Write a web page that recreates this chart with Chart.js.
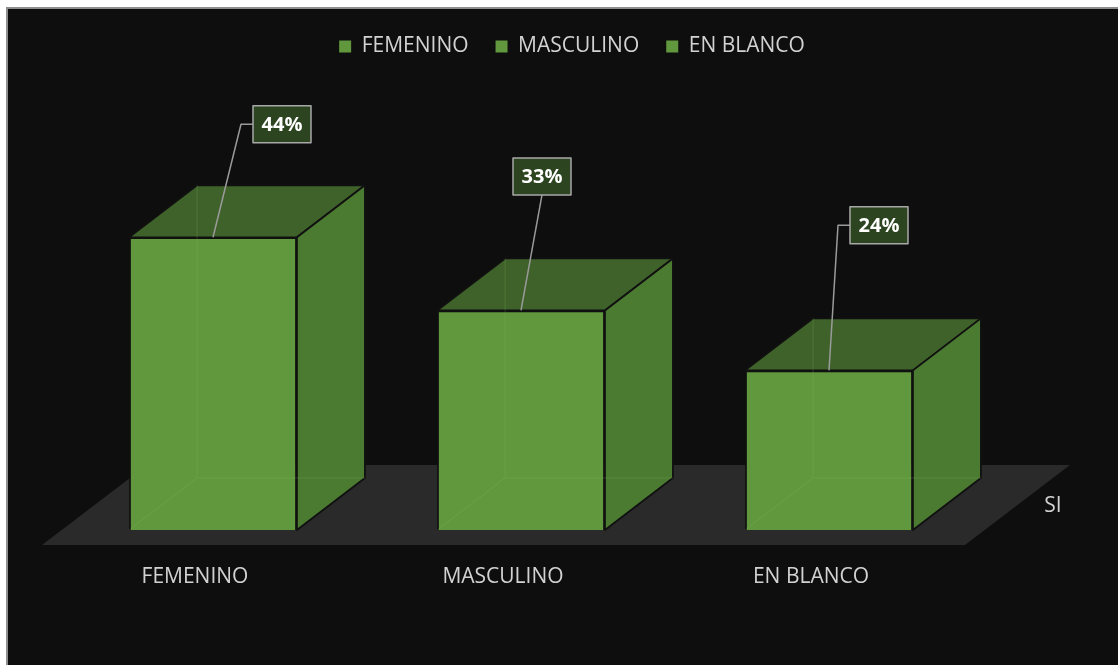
<!DOCTYPE html>
<html>
<head>
<meta charset="utf-8">
<script src="https://cdn.jsdelivr.net/npm/chart.js@4.4.0/dist/chart.umd.min.js"></script>
<style>
  body { margin: 0; background: #fff; overflow: hidden; }
  #frame { position: absolute; left: 6px; top: 7px; width: 1130px; height: 680px; background: #0e0e0e; border-left: 2px solid #8e8e8e; border-top: 2px solid #8e8e8e; }
  #chart { position: absolute; left: 0; top: 0; }
</style>
</head>
<body>
<div id="frame"></div>
<canvas id="chart" width="1118" height="665"></canvas>
<script>
// data
const categories = ['FEMENINO', 'MASCULINO', 'EN BLANCO'];
const seriesNames = ['FEMENINO', 'MASCULINO', 'EN BLANCO'];
const seriesValues = [44, 33, 24];
const depthLabels = ['SI'];

const FRONT = '#61973d';
const TOP = '#3e6229';
const SIDE = '#4b7a31';
const EDGE = '#111';
const TEXT = '#d2d2d2';
const DX = 68, DY = 52;   // depth of the boxes
// where each callout box sits, relative to the top of its bar
const calloutOffsets = [[69, -113], [21, -134], [50, -145]];

function bars(chart) {
    const out = [];
    chart.data.datasets.forEach((ds, i) => {
        if (!chart.isDatasetVisible(i)) return;
        chart.getDatasetMeta(i).data.forEach((el, j) => {
            if (ds.data[j] == null) return;
            const p = el.getProps(['x', 'y', 'base', 'width'], true);
            out.push({ ...p, value: ds.data[j], i });
        });
    });
    return out;
}

const threeD = {
    id: 'threeD',
    beforeDatasetsDraw(chart) {
        const { ctx, chartArea: a } = chart;
        ctx.save();
        // floor
        ctx.fillStyle = '#2b2a2b';
        ctx.beginPath();
        ctx.moveTo(a.left - 17, a.bottom + 15);
        ctx.lineTo(a.right - 18, a.bottom + 15);
        ctx.lineTo(a.right + 87, a.bottom - 65);
        ctx.lineTo(a.left + 88, a.bottom - 65);
        ctx.closePath();
        ctx.fill();
        ctx.restore();
    },
    afterDatasetsDraw(chart) {
        const { ctx, chartArea: a } = chart;
        ctx.save();
        ctx.lineJoin = 'round';
        bars(chart).forEach(b => {
            const L = b.x - b.width / 2, R = b.x + b.width / 2;
            // top
            ctx.beginPath();
            ctx.moveTo(L, b.y);
            ctx.lineTo(L + DX, b.y - DY);
            ctx.lineTo(R + DX, b.y - DY);
            ctx.lineTo(R, b.y);
            ctx.closePath();
            ctx.fillStyle = TOP;
            ctx.fill();
            ctx.strokeStyle = EDGE; ctx.lineWidth = 1.8;
            ctx.stroke();
            // side
            ctx.beginPath();
            ctx.moveTo(R, b.y);
            ctx.lineTo(R + DX, b.y - DY);
            ctx.lineTo(R + DX, b.base - DY);
            ctx.lineTo(R, b.base);
            ctx.closePath();
            ctx.fillStyle = SIDE;
            ctx.fill();
            ctx.stroke();
            // faint hidden edges seen through the box
            ctx.beginPath();
            ctx.moveTo(L, b.base);
            ctx.lineTo(L + DX, b.base - DY);
            ctx.lineTo(R + DX, b.base - DY);
            ctx.moveTo(L + DX, b.base - DY);
            ctx.lineTo(L + DX, b.y - DY);
            ctx.strokeStyle = 'rgba(140,190,100,0.22)';
            ctx.lineWidth = 1;
            ctx.stroke();
        });

        // callouts
        bars(chart).forEach(b => {
            const [ox, oy] = calloutOffsets[b.i];
            const w = 58, h = 37;
            const cx = b.x + ox, cy = b.y + oy;
            const bl = cx - w / 2, bt = cy - h / 2;
            ctx.beginPath();
            if (b.x < bl) {
                ctx.moveTo(bl, cy);
                ctx.lineTo(bl - 12, cy);
                ctx.lineTo(b.x, b.y);
            } else {
                ctx.moveTo(cx, bt + h);
                ctx.lineTo(b.x, b.y);
            }
            ctx.strokeStyle = '#9a9a9a'; ctx.lineWidth = 1.5;
            ctx.stroke();
            ctx.fillStyle = '#2c4420';
            ctx.fillRect(bl, bt, w, h);
            ctx.strokeStyle = '#a8a8a8';
            ctx.strokeRect(bl, bt, w, h);
            ctx.fillStyle = '#fff';
            ctx.font = 'bold 20px "Open Sans"';
            ctx.textAlign = 'center'; ctx.textBaseline = 'middle';
            ctx.fillText(b.value + '%', cx, cy + 1);
        });

        // depth axis label
        ctx.fillStyle = TEXT;
        ctx.font = '21px "Open Sans"';
        ctx.textAlign = 'center'; ctx.textBaseline = 'middle';
        ctx.fillText(depthLabels[0], a.right + 70, a.bottom - 24);
        ctx.restore();
    }
};

const datasets = seriesNames.map((name, i) => ({
    label: name,
    data: categories.map((c, j) => (j === i ? seriesValues[i] : null)),
    backgroundColor: FRONT,
    borderColor: EDGE,
    borderWidth: 1.8,
    grouped: false,
    barPercentage: 0.545,
    categoryPercentage: 1,
    clip: false
}));

new Chart(document.getElementById('chart'), {
    type: 'bar',
    data: { labels: categories, datasets },
    options: {
        responsive: false,
        devicePixelRatio: 1,
        animation: false,
        layout: { padding: { left: 26, top: 9, right: 0, bottom: 0 } },
        plugins: {
            tooltip: { enabled: false },
            legend: {
                position: 'top',
                labels: {
                    color: TEXT,
                    font: { family: 'Open Sans', size: 21 },
                    boxWidth: 12,
                    boxHeight: 12,
                    padding: 27,
                    generateLabels: chart => chart.data.datasets.map((ds, i) => ({
                        text: ds.label,
                        fillStyle: FRONT,
                        strokeStyle: FRONT,
                        lineWidth: 0,
                        fontColor: TEXT,
                        datasetIndex: i
                    }))
                }
            }
        },
        scales: {
            x: {
                grid: { display: false, drawTicks: false },
                border: { display: false },
                ticks: { color: TEXT, font: { family: 'Open Sans', size: 21 }, padding: 34, labelOffset: -18, maxRotation: 0 },
                afterFit: s => { s.height = 135; }
            },
            y: {
                min: 0, max: 69.6,
                grid: { display: false, drawTicks: false },
                border: { display: false },
                ticks: { display: false },
                afterFit: s => { s.width = 33; }
            },
            y2: {
                position: 'right',
                min: 0, max: 69.6,
                grid: { display: false, drawTicks: false },
                border: { display: false },
                ticks: { display: false },
                afterFit: s => { s.width = 135; }
            }
        }
    },
    plugins: [threeD]
});
</script>
</body>
</html>
